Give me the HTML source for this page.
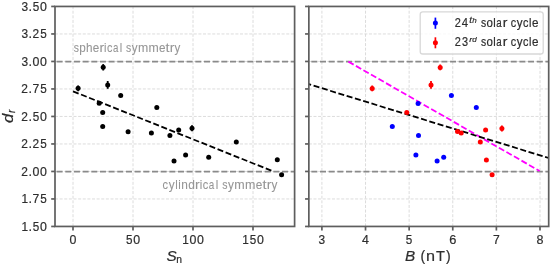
<!DOCTYPE html>
<html><head><meta charset="utf-8"><style>
html,body{margin:0;padding:0;background:#fff;}
body{width:550px;height:265px;overflow:hidden;}
svg{display:block;font-family:"Liberation Sans", sans-serif;will-change:transform;}
.t{stroke:#2e2e2e;stroke-width:0.2px;}
.g{stroke:#969696;stroke-width:0.08px;}
</style></head><body>
<svg width="550" height="265" viewBox="0 0 550 265">
<rect width="550" height="265" fill="#fff"/>
<line x1="55.0" y1="33.95" x2="294.6" y2="33.95" stroke="#d8d8d8" stroke-width="0.9" stroke-dasharray="3.0,1.625"/>
<line x1="55.0" y1="61.45" x2="294.6" y2="61.45" stroke="#d8d8d8" stroke-width="0.9" stroke-dasharray="3.0,1.625"/>
<line x1="55.0" y1="88.95" x2="294.6" y2="88.95" stroke="#d8d8d8" stroke-width="0.9" stroke-dasharray="3.0,1.625"/>
<line x1="55.0" y1="116.45" x2="294.6" y2="116.45" stroke="#d8d8d8" stroke-width="0.9" stroke-dasharray="3.0,1.625"/>
<line x1="55.0" y1="143.95" x2="294.6" y2="143.95" stroke="#d8d8d8" stroke-width="0.9" stroke-dasharray="3.0,1.625"/>
<line x1="55.0" y1="171.45" x2="294.6" y2="171.45" stroke="#d8d8d8" stroke-width="0.9" stroke-dasharray="3.0,1.625"/>
<line x1="55.0" y1="198.95" x2="294.6" y2="198.95" stroke="#d8d8d8" stroke-width="0.9" stroke-dasharray="3.0,1.625"/>
<line x1="73.00" y1="226.45" x2="73.00" y2="6.45" stroke="#d8d8d8" stroke-width="0.9" stroke-dasharray="3.0,1.625"/>
<line x1="133.00" y1="226.45" x2="133.00" y2="6.45" stroke="#d8d8d8" stroke-width="0.9" stroke-dasharray="3.0,1.625"/>
<line x1="193.00" y1="226.45" x2="193.00" y2="6.45" stroke="#d8d8d8" stroke-width="0.9" stroke-dasharray="3.0,1.625"/>
<line x1="253.00" y1="226.45" x2="253.00" y2="6.45" stroke="#d8d8d8" stroke-width="0.9" stroke-dasharray="3.0,1.625"/>
<line x1="308.85" y1="33.95" x2="548.7" y2="33.95" stroke="#d8d8d8" stroke-width="0.9" stroke-dasharray="3.0,1.625"/>
<line x1="308.85" y1="61.45" x2="548.7" y2="61.45" stroke="#d8d8d8" stroke-width="0.9" stroke-dasharray="3.0,1.625"/>
<line x1="308.85" y1="88.95" x2="548.7" y2="88.95" stroke="#d8d8d8" stroke-width="0.9" stroke-dasharray="3.0,1.625"/>
<line x1="308.85" y1="116.45" x2="548.7" y2="116.45" stroke="#d8d8d8" stroke-width="0.9" stroke-dasharray="3.0,1.625"/>
<line x1="308.85" y1="143.95" x2="548.7" y2="143.95" stroke="#d8d8d8" stroke-width="0.9" stroke-dasharray="3.0,1.625"/>
<line x1="308.85" y1="171.45" x2="548.7" y2="171.45" stroke="#d8d8d8" stroke-width="0.9" stroke-dasharray="3.0,1.625"/>
<line x1="308.85" y1="198.95" x2="548.7" y2="198.95" stroke="#d8d8d8" stroke-width="0.9" stroke-dasharray="3.0,1.625"/>
<line x1="321.90" y1="226.45" x2="321.90" y2="6.45" stroke="#d8d8d8" stroke-width="0.9" stroke-dasharray="3.0,1.625"/>
<line x1="365.52" y1="226.45" x2="365.52" y2="6.45" stroke="#d8d8d8" stroke-width="0.9" stroke-dasharray="3.0,1.625"/>
<line x1="409.14" y1="226.45" x2="409.14" y2="6.45" stroke="#d8d8d8" stroke-width="0.9" stroke-dasharray="3.0,1.625"/>
<line x1="452.76" y1="226.45" x2="452.76" y2="6.45" stroke="#d8d8d8" stroke-width="0.9" stroke-dasharray="3.0,1.625"/>
<line x1="496.38" y1="226.45" x2="496.38" y2="6.45" stroke="#d8d8d8" stroke-width="0.9" stroke-dasharray="3.0,1.625"/>
<line x1="540.00" y1="226.45" x2="540.00" y2="6.45" stroke="#d8d8d8" stroke-width="0.9" stroke-dasharray="3.0,1.625"/>
<line x1="56.6" y1="61.63" x2="294.6" y2="61.63" stroke="#8a8a8a" stroke-width="1.9" stroke-dasharray="6,2.67"/>
<line x1="56.6" y1="171.63" x2="294.6" y2="171.63" stroke="#8a8a8a" stroke-width="1.9" stroke-dasharray="6,2.67"/>
<line x1="311.35" y1="61.63" x2="548.7" y2="61.63" stroke="#8a8a8a" stroke-width="1.9" stroke-dasharray="6,2.67"/>
<line x1="311.35" y1="171.63" x2="548.7" y2="171.63" stroke="#8a8a8a" stroke-width="1.9" stroke-dasharray="6,2.67"/>
<text x="73.71" y="51.60" font-size="12.17" fill="#969696" class="g" textLength="5.18" lengthAdjust="spacingAndGlyphs">s</text>
<text x="79.27" y="51.60" font-size="12.15" fill="#969696" class="g" textLength="6.53" lengthAdjust="spacingAndGlyphs">p</text>
<text x="86.07" y="51.60" font-size="12.23" fill="#969696" class="g" textLength="6.52" lengthAdjust="spacingAndGlyphs">h</text>
<text x="92.84" y="51.60" font-size="12.14" fill="#969696" class="g" textLength="6.49" lengthAdjust="spacingAndGlyphs">e</text>
<text x="99.45" y="51.60" font-size="12.14" fill="#969696" class="g" textLength="4.61" lengthAdjust="spacingAndGlyphs">r</text>
<text x="104.11" y="51.60" font-size="12.23" fill="#969696" class="g" textLength="2.45" lengthAdjust="spacingAndGlyphs">i</text>
<text x="106.96" y="51.60" font-size="12.14" fill="#969696" class="g" textLength="5.42" lengthAdjust="spacingAndGlyphs">c</text>
<text x="113.00" y="51.60" font-size="12.14" fill="#969696" class="g" textLength="5.40" lengthAdjust="spacingAndGlyphs">a</text>
<text x="119.66" y="51.60" font-size="12.23" fill="#969696" class="g" textLength="2.45" lengthAdjust="spacingAndGlyphs">l</text>
<text x="126.12" y="51.60" font-size="12.17" fill="#969696" class="g" textLength="5.18" lengthAdjust="spacingAndGlyphs">s</text>
<text x="131.74" y="51.60" font-size="12.07" fill="#969696" class="g" textLength="5.80" lengthAdjust="spacingAndGlyphs">y</text>
<text x="138.00" y="51.60" font-size="12.14" fill="#969696" class="g" textLength="10.25" lengthAdjust="spacingAndGlyphs">m</text>
<text x="148.52" y="51.60" font-size="12.14" fill="#969696" class="g" textLength="10.25" lengthAdjust="spacingAndGlyphs">m</text>
<text x="158.98" y="51.60" font-size="12.14" fill="#969696" class="g" textLength="6.49" lengthAdjust="spacingAndGlyphs">e</text>
<text x="165.59" y="51.60" font-size="12.67" fill="#969696" class="g" textLength="4.01" lengthAdjust="spacingAndGlyphs">t</text>
<text x="169.82" y="51.60" font-size="12.14" fill="#969696" class="g" textLength="4.61" lengthAdjust="spacingAndGlyphs">r</text>
<text x="174.49" y="51.60" font-size="12.07" fill="#969696" class="g" textLength="5.80" lengthAdjust="spacingAndGlyphs">y</text>
<text x="162.54" y="189.00" font-size="12.14" fill="#969696" class="g" textLength="5.52" lengthAdjust="spacingAndGlyphs">c</text>
<text x="168.75" y="189.00" font-size="12.07" fill="#969696" class="g" textLength="5.90" lengthAdjust="spacingAndGlyphs">y</text>
<text x="175.24" y="189.00" font-size="12.23" fill="#969696" class="g" textLength="2.50" lengthAdjust="spacingAndGlyphs">l</text>
<text x="178.30" y="189.00" font-size="12.23" fill="#969696" class="g" textLength="2.50" lengthAdjust="spacingAndGlyphs">i</text>
<text x="181.28" y="189.00" font-size="12.14" fill="#969696" class="g" textLength="6.59" lengthAdjust="spacingAndGlyphs">n</text>
<text x="188.14" y="189.00" font-size="12.23" fill="#969696" class="g" textLength="6.65" lengthAdjust="spacingAndGlyphs">d</text>
<text x="195.08" y="189.00" font-size="12.14" fill="#969696" class="g" textLength="4.69" lengthAdjust="spacingAndGlyphs">r</text>
<text x="199.82" y="189.00" font-size="12.23" fill="#969696" class="g" textLength="2.50" lengthAdjust="spacingAndGlyphs">i</text>
<text x="202.73" y="189.00" font-size="12.14" fill="#969696" class="g" textLength="5.52" lengthAdjust="spacingAndGlyphs">c</text>
<text x="208.87" y="189.00" font-size="12.14" fill="#969696" class="g" textLength="5.50" lengthAdjust="spacingAndGlyphs">a</text>
<text x="215.65" y="189.00" font-size="12.23" fill="#969696" class="g" textLength="2.50" lengthAdjust="spacingAndGlyphs">l</text>
<text x="222.22" y="189.00" font-size="12.17" fill="#969696" class="g" textLength="5.27" lengthAdjust="spacingAndGlyphs">s</text>
<text x="227.95" y="189.00" font-size="12.07" fill="#969696" class="g" textLength="5.90" lengthAdjust="spacingAndGlyphs">y</text>
<text x="234.32" y="189.00" font-size="12.14" fill="#969696" class="g" textLength="10.43" lengthAdjust="spacingAndGlyphs">m</text>
<text x="245.03" y="189.00" font-size="12.14" fill="#969696" class="g" textLength="10.43" lengthAdjust="spacingAndGlyphs">m</text>
<text x="255.68" y="189.00" font-size="12.14" fill="#969696" class="g" textLength="6.60" lengthAdjust="spacingAndGlyphs">e</text>
<text x="262.41" y="189.00" font-size="12.67" fill="#969696" class="g" textLength="4.08" lengthAdjust="spacingAndGlyphs">t</text>
<text x="266.71" y="189.00" font-size="12.14" fill="#969696" class="g" textLength="4.69" lengthAdjust="spacingAndGlyphs">r</text>
<text x="271.47" y="189.00" font-size="12.07" fill="#969696" class="g" textLength="5.90" lengthAdjust="spacingAndGlyphs">y</text>
<line x1="73.0" y1="91.3" x2="273.0" y2="171.3" stroke="#000" stroke-width="1.8" stroke-dasharray="6.05,2.6"/>
<line x1="348.4" y1="61.6" x2="539.6" y2="171.0" stroke="#ff00ff" stroke-width="1.8" stroke-dasharray="6.07,2.6"/>
<line x1="308.85" y1="84.2" x2="548.7" y2="158.0" stroke="#000" stroke-width="1.8" stroke-dasharray="6.05,2.6" stroke-dashoffset="3.7"/>
<line x1="78.1" y1="85.40" x2="78.1" y2="91.20" stroke="#000" stroke-width="1.8"/>
<circle cx="78.1" cy="88.3" r="2.5" fill="#000"/>
<line x1="103.2" y1="64.10" x2="103.2" y2="70.50" stroke="#000" stroke-width="1.8"/>
<circle cx="103.2" cy="67.3" r="2.5" fill="#000"/>
<line x1="107.7" y1="81.00" x2="107.7" y2="88.80" stroke="#000" stroke-width="1.8"/>
<circle cx="107.7" cy="84.9" r="2.5" fill="#000"/>
<circle cx="120.7" cy="95.4" r="2.5" fill="#000"/>
<circle cx="99.2" cy="103.2" r="2.5" fill="#000"/>
<circle cx="102.7" cy="112.6" r="2.5" fill="#000"/>
<circle cx="102.7" cy="126.5" r="2.5" fill="#000"/>
<circle cx="128.1" cy="131.7" r="2.5" fill="#000"/>
<circle cx="151.4" cy="133.0" r="2.5" fill="#000"/>
<circle cx="156.8" cy="107.5" r="2.5" fill="#000"/>
<circle cx="169.9" cy="135.6" r="2.5" fill="#000"/>
<circle cx="178.7" cy="129.9" r="2.5" fill="#000"/>
<line x1="192.0" y1="125.30" x2="192.0" y2="131.30" stroke="#000" stroke-width="1.8"/>
<circle cx="192.0" cy="128.3" r="2.5" fill="#000"/>
<circle cx="174.0" cy="161.0" r="2.5" fill="#000"/>
<circle cx="185.6" cy="154.9" r="2.5" fill="#000"/>
<circle cx="208.7" cy="157.3" r="2.5" fill="#000"/>
<circle cx="236.3" cy="142.1" r="2.5" fill="#000"/>
<circle cx="277.3" cy="159.8" r="2.5" fill="#000"/>
<circle cx="281.6" cy="174.7" r="2.5" fill="#000"/>
<line x1="372.2" y1="85.50" x2="372.2" y2="91.30" stroke="#ff0000" stroke-width="1.8"/>
<circle cx="372.2" cy="88.4" r="2.5" fill="#ff0000"/>
<line x1="440.2" y1="64.50" x2="440.2" y2="70.30" stroke="#ff0000" stroke-width="1.8"/>
<circle cx="440.2" cy="67.4" r="2.5" fill="#ff0000"/>
<line x1="431.0" y1="81.00" x2="431.0" y2="88.80" stroke="#ff0000" stroke-width="1.8"/>
<circle cx="431.0" cy="84.9" r="2.5" fill="#ff0000"/>
<circle cx="406.8" cy="112.6" r="2.5" fill="#ff0000"/>
<circle cx="457.5" cy="131.5" r="2.5" fill="#ff0000"/>
<circle cx="461.2" cy="132.9" r="2.5" fill="#ff0000"/>
<circle cx="485.6" cy="130.1" r="2.5" fill="#ff0000"/>
<line x1="501.9" y1="125.50" x2="501.9" y2="131.50" stroke="#ff0000" stroke-width="1.8"/>
<circle cx="501.9" cy="128.5" r="2.5" fill="#ff0000"/>
<circle cx="480.3" cy="142.0" r="2.5" fill="#ff0000"/>
<circle cx="486.4" cy="160.0" r="2.5" fill="#ff0000"/>
<circle cx="492.1" cy="174.8" r="2.5" fill="#ff0000"/>
<circle cx="451.4" cy="95.6" r="2.5" fill="#0000ff"/>
<circle cx="418.1" cy="103.4" r="2.5" fill="#0000ff"/>
<circle cx="392.3" cy="126.4" r="2.5" fill="#0000ff"/>
<circle cx="418.5" cy="135.6" r="2.5" fill="#0000ff"/>
<circle cx="415.9" cy="154.9" r="2.5" fill="#0000ff"/>
<circle cx="443.7" cy="157.2" r="2.5" fill="#0000ff"/>
<circle cx="437.1" cy="161.0" r="2.5" fill="#0000ff"/>
<circle cx="476.3" cy="107.5" r="2.5" fill="#0000ff"/>
<rect x="420.2" y="11.9" width="123.0" height="42.1" rx="2.6" fill="#fff" fill-opacity="0.8" stroke="#d8d8d8" stroke-width="1.3"/>
<line x1="435.4" y1="17.6" x2="435.4" y2="28.8" stroke="#0000ff" stroke-width="1.7"/>
<circle cx="435.4" cy="23.1" r="2.5" fill="#0000ff"/>
<line x1="435.4" y1="37.3" x2="435.4" y2="48.3" stroke="#ff0000" stroke-width="1.7"/>
<circle cx="435.4" cy="42.8" r="2.5" fill="#ff0000"/>
<text x="454.85" y="26.70" font-size="12.28" fill="#2e2e2e" class="t" textLength="6.10" lengthAdjust="spacingAndGlyphs">2</text>
<text x="461.75" y="26.70" font-size="12.24" fill="#2e2e2e" class="t" textLength="6.33" lengthAdjust="spacingAndGlyphs">4</text>
<text x="469.27" y="23.00" font-size="8.21" font-style="italic" fill="#2e2e2e" class="t" textLength="2.77" lengthAdjust="spacingAndGlyphs">t</text>
<text x="472.28" y="23.00" font-size="7.93" font-style="italic" fill="#2e2e2e" class="t" textLength="4.43" lengthAdjust="spacingAndGlyphs">h</text>
<text x="481.11" y="26.70" font-size="12.06" fill="#2e2e2e" class="t" textLength="5.18" lengthAdjust="spacingAndGlyphs">s</text>
<text x="486.56" y="26.70" font-size="12.03" fill="#2e2e2e" class="t" textLength="6.39" lengthAdjust="spacingAndGlyphs">o</text>
<text x="493.33" y="26.70" font-size="12.12" fill="#2e2e2e" class="t" textLength="2.45" lengthAdjust="spacingAndGlyphs">l</text>
<text x="496.29" y="26.70" font-size="12.03" fill="#2e2e2e" class="t" textLength="5.40" lengthAdjust="spacingAndGlyphs">a</text>
<text x="502.73" y="26.70" font-size="12.03" fill="#2e2e2e" class="t" textLength="4.61" lengthAdjust="spacingAndGlyphs">r</text>
<text x="510.68" y="26.70" font-size="12.03" fill="#2e2e2e" class="t" textLength="5.42" lengthAdjust="spacingAndGlyphs">c</text>
<text x="516.77" y="26.70" font-size="11.96" fill="#2e2e2e" class="t" textLength="5.80" lengthAdjust="spacingAndGlyphs">y</text>
<text x="523.01" y="26.70" font-size="12.03" fill="#2e2e2e" class="t" textLength="5.42" lengthAdjust="spacingAndGlyphs">c</text>
<text x="529.08" y="26.70" font-size="12.12" fill="#2e2e2e" class="t" textLength="2.45" lengthAdjust="spacingAndGlyphs">l</text>
<text x="531.91" y="26.70" font-size="12.03" fill="#2e2e2e" class="t" textLength="6.49" lengthAdjust="spacingAndGlyphs">e</text>
<text x="454.85" y="45.70" font-size="12.28" fill="#2e2e2e" class="t" textLength="6.10" lengthAdjust="spacingAndGlyphs">2</text>
<text x="461.89" y="45.70" font-size="12.28" fill="#2e2e2e" class="t" textLength="6.08" lengthAdjust="spacingAndGlyphs">3</text>
<text x="469.36" y="42.00" font-size="7.87" font-style="italic" fill="#2e2e2e" class="t" textLength="3.01" lengthAdjust="spacingAndGlyphs">r</text>
<text x="472.37" y="42.00" font-size="7.93" font-style="italic" fill="#2e2e2e" class="t" textLength="4.45" lengthAdjust="spacingAndGlyphs">d</text>
<text x="481.11" y="45.70" font-size="12.06" fill="#2e2e2e" class="t" textLength="5.18" lengthAdjust="spacingAndGlyphs">s</text>
<text x="486.56" y="45.70" font-size="12.03" fill="#2e2e2e" class="t" textLength="6.39" lengthAdjust="spacingAndGlyphs">o</text>
<text x="493.33" y="45.70" font-size="12.12" fill="#2e2e2e" class="t" textLength="2.45" lengthAdjust="spacingAndGlyphs">l</text>
<text x="496.29" y="45.70" font-size="12.03" fill="#2e2e2e" class="t" textLength="5.40" lengthAdjust="spacingAndGlyphs">a</text>
<text x="502.73" y="45.70" font-size="12.03" fill="#2e2e2e" class="t" textLength="4.61" lengthAdjust="spacingAndGlyphs">r</text>
<text x="510.68" y="45.70" font-size="12.03" fill="#2e2e2e" class="t" textLength="5.42" lengthAdjust="spacingAndGlyphs">c</text>
<text x="516.77" y="45.70" font-size="11.96" fill="#2e2e2e" class="t" textLength="5.80" lengthAdjust="spacingAndGlyphs">y</text>
<text x="523.01" y="45.70" font-size="12.03" fill="#2e2e2e" class="t" textLength="5.42" lengthAdjust="spacingAndGlyphs">c</text>
<text x="529.08" y="45.70" font-size="12.12" fill="#2e2e2e" class="t" textLength="2.45" lengthAdjust="spacingAndGlyphs">l</text>
<text x="531.91" y="45.70" font-size="12.03" fill="#2e2e2e" class="t" textLength="6.49" lengthAdjust="spacingAndGlyphs">e</text>
<rect x="55.0" y="6.45" width="239.60" height="220.00" fill="none" stroke="#5e5e5e" stroke-width="1.7"/>
<line x1="51.2" y1="6.45" x2="55.0" y2="6.45" stroke="#5e5e5e" stroke-width="1.7"/>
<line x1="51.2" y1="33.95" x2="55.0" y2="33.95" stroke="#5e5e5e" stroke-width="1.7"/>
<line x1="51.2" y1="61.45" x2="55.0" y2="61.45" stroke="#5e5e5e" stroke-width="1.7"/>
<line x1="51.2" y1="88.95" x2="55.0" y2="88.95" stroke="#5e5e5e" stroke-width="1.7"/>
<line x1="51.2" y1="116.45" x2="55.0" y2="116.45" stroke="#5e5e5e" stroke-width="1.7"/>
<line x1="51.2" y1="143.95" x2="55.0" y2="143.95" stroke="#5e5e5e" stroke-width="1.7"/>
<line x1="51.2" y1="171.45" x2="55.0" y2="171.45" stroke="#5e5e5e" stroke-width="1.7"/>
<line x1="51.2" y1="198.95" x2="55.0" y2="198.95" stroke="#5e5e5e" stroke-width="1.7"/>
<line x1="51.2" y1="226.45" x2="55.0" y2="226.45" stroke="#5e5e5e" stroke-width="1.7"/>
<rect x="308.85" y="6.45" width="239.85" height="220.00" fill="none" stroke="#5e5e5e" stroke-width="1.7"/>
<line x1="305.05" y1="6.45" x2="308.85" y2="6.45" stroke="#5e5e5e" stroke-width="1.7"/>
<line x1="305.05" y1="33.95" x2="308.85" y2="33.95" stroke="#5e5e5e" stroke-width="1.7"/>
<line x1="305.05" y1="61.45" x2="308.85" y2="61.45" stroke="#5e5e5e" stroke-width="1.7"/>
<line x1="305.05" y1="88.95" x2="308.85" y2="88.95" stroke="#5e5e5e" stroke-width="1.7"/>
<line x1="305.05" y1="116.45" x2="308.85" y2="116.45" stroke="#5e5e5e" stroke-width="1.7"/>
<line x1="305.05" y1="143.95" x2="308.85" y2="143.95" stroke="#5e5e5e" stroke-width="1.7"/>
<line x1="305.05" y1="171.45" x2="308.85" y2="171.45" stroke="#5e5e5e" stroke-width="1.7"/>
<line x1="305.05" y1="198.95" x2="308.85" y2="198.95" stroke="#5e5e5e" stroke-width="1.7"/>
<line x1="305.05" y1="226.45" x2="308.85" y2="226.45" stroke="#5e5e5e" stroke-width="1.7"/>
<line x1="73.00" y1="226.45" x2="73.00" y2="230.54999999999998" stroke="#5e5e5e" stroke-width="1.7"/>
<line x1="133.00" y1="226.45" x2="133.00" y2="230.54999999999998" stroke="#5e5e5e" stroke-width="1.7"/>
<line x1="193.00" y1="226.45" x2="193.00" y2="230.54999999999998" stroke="#5e5e5e" stroke-width="1.7"/>
<line x1="253.00" y1="226.45" x2="253.00" y2="230.54999999999998" stroke="#5e5e5e" stroke-width="1.7"/>
<line x1="321.90" y1="226.45" x2="321.90" y2="230.54999999999998" stroke="#5e5e5e" stroke-width="1.7"/>
<line x1="365.52" y1="226.45" x2="365.52" y2="230.54999999999998" stroke="#5e5e5e" stroke-width="1.7"/>
<line x1="409.14" y1="226.45" x2="409.14" y2="230.54999999999998" stroke="#5e5e5e" stroke-width="1.7"/>
<line x1="452.76" y1="226.45" x2="452.76" y2="230.54999999999998" stroke="#5e5e5e" stroke-width="1.7"/>
<line x1="496.38" y1="226.45" x2="496.38" y2="230.54999999999998" stroke="#5e5e5e" stroke-width="1.7"/>
<line x1="540.00" y1="226.45" x2="540.00" y2="230.54999999999998" stroke="#5e5e5e" stroke-width="1.7"/>
<text x="21.48" y="10.95" font-size="12.49" fill="#2e2e2e" class="t" textLength="6.62" lengthAdjust="spacingAndGlyphs">3</text>
<text x="28.61" y="10.95" font-size="12.49" fill="#2e2e2e" class="t" textLength="3.53" lengthAdjust="spacingAndGlyphs">.</text>
<text x="32.69" y="10.95" font-size="12.45" fill="#2e2e2e" class="t" textLength="6.50" lengthAdjust="spacingAndGlyphs">5</text>
<text x="40.01" y="10.95" font-size="12.49" fill="#2e2e2e" class="t" textLength="6.89" lengthAdjust="spacingAndGlyphs">0</text>
<text x="21.48" y="38.45" font-size="12.49" fill="#2e2e2e" class="t" textLength="6.62" lengthAdjust="spacingAndGlyphs">3</text>
<text x="28.61" y="38.45" font-size="12.49" fill="#2e2e2e" class="t" textLength="3.53" lengthAdjust="spacingAndGlyphs">.</text>
<text x="32.51" y="38.45" font-size="12.49" fill="#2e2e2e" class="t" textLength="6.64" lengthAdjust="spacingAndGlyphs">2</text>
<text x="40.16" y="38.45" font-size="12.45" fill="#2e2e2e" class="t" textLength="6.50" lengthAdjust="spacingAndGlyphs">5</text>
<text x="21.48" y="65.95" font-size="12.49" fill="#2e2e2e" class="t" textLength="6.62" lengthAdjust="spacingAndGlyphs">3</text>
<text x="28.61" y="65.95" font-size="12.49" fill="#2e2e2e" class="t" textLength="3.53" lengthAdjust="spacingAndGlyphs">.</text>
<text x="32.54" y="65.95" font-size="12.49" fill="#2e2e2e" class="t" textLength="6.89" lengthAdjust="spacingAndGlyphs">0</text>
<text x="40.01" y="65.95" font-size="12.49" fill="#2e2e2e" class="t" textLength="6.89" lengthAdjust="spacingAndGlyphs">0</text>
<text x="21.30" y="93.45" font-size="12.49" fill="#2e2e2e" class="t" textLength="6.64" lengthAdjust="spacingAndGlyphs">2</text>
<text x="28.61" y="93.45" font-size="12.49" fill="#2e2e2e" class="t" textLength="3.53" lengthAdjust="spacingAndGlyphs">.</text>
<text x="32.59" y="93.45" font-size="12.45" fill="#2e2e2e" class="t" textLength="6.74" lengthAdjust="spacingAndGlyphs">7</text>
<text x="40.16" y="93.45" font-size="12.45" fill="#2e2e2e" class="t" textLength="6.50" lengthAdjust="spacingAndGlyphs">5</text>
<text x="21.30" y="120.95" font-size="12.49" fill="#2e2e2e" class="t" textLength="6.64" lengthAdjust="spacingAndGlyphs">2</text>
<text x="28.61" y="120.95" font-size="12.49" fill="#2e2e2e" class="t" textLength="3.53" lengthAdjust="spacingAndGlyphs">.</text>
<text x="32.69" y="120.95" font-size="12.45" fill="#2e2e2e" class="t" textLength="6.50" lengthAdjust="spacingAndGlyphs">5</text>
<text x="40.01" y="120.95" font-size="12.49" fill="#2e2e2e" class="t" textLength="6.89" lengthAdjust="spacingAndGlyphs">0</text>
<text x="21.30" y="148.45" font-size="12.49" fill="#2e2e2e" class="t" textLength="6.64" lengthAdjust="spacingAndGlyphs">2</text>
<text x="28.61" y="148.45" font-size="12.49" fill="#2e2e2e" class="t" textLength="3.53" lengthAdjust="spacingAndGlyphs">.</text>
<text x="32.51" y="148.45" font-size="12.49" fill="#2e2e2e" class="t" textLength="6.64" lengthAdjust="spacingAndGlyphs">2</text>
<text x="40.16" y="148.45" font-size="12.45" fill="#2e2e2e" class="t" textLength="6.50" lengthAdjust="spacingAndGlyphs">5</text>
<text x="21.30" y="175.95" font-size="12.49" fill="#2e2e2e" class="t" textLength="6.64" lengthAdjust="spacingAndGlyphs">2</text>
<text x="28.61" y="175.95" font-size="12.49" fill="#2e2e2e" class="t" textLength="3.53" lengthAdjust="spacingAndGlyphs">.</text>
<text x="32.54" y="175.95" font-size="12.49" fill="#2e2e2e" class="t" textLength="6.89" lengthAdjust="spacingAndGlyphs">0</text>
<text x="40.01" y="175.95" font-size="12.49" fill="#2e2e2e" class="t" textLength="6.89" lengthAdjust="spacingAndGlyphs">0</text>
<text x="21.43" y="203.45" font-size="12.45" fill="#2e2e2e" class="t" textLength="6.58" lengthAdjust="spacingAndGlyphs">1</text>
<text x="28.61" y="203.45" font-size="12.49" fill="#2e2e2e" class="t" textLength="3.53" lengthAdjust="spacingAndGlyphs">.</text>
<text x="32.59" y="203.45" font-size="12.45" fill="#2e2e2e" class="t" textLength="6.74" lengthAdjust="spacingAndGlyphs">7</text>
<text x="40.16" y="203.45" font-size="12.45" fill="#2e2e2e" class="t" textLength="6.50" lengthAdjust="spacingAndGlyphs">5</text>
<text x="21.43" y="230.95" font-size="12.45" fill="#2e2e2e" class="t" textLength="6.58" lengthAdjust="spacingAndGlyphs">1</text>
<text x="28.61" y="230.95" font-size="12.49" fill="#2e2e2e" class="t" textLength="3.53" lengthAdjust="spacingAndGlyphs">.</text>
<text x="32.69" y="230.95" font-size="12.45" fill="#2e2e2e" class="t" textLength="6.50" lengthAdjust="spacingAndGlyphs">5</text>
<text x="40.01" y="230.95" font-size="12.49" fill="#2e2e2e" class="t" textLength="6.89" lengthAdjust="spacingAndGlyphs">0</text>
<text x="69.55" y="243.60" font-size="12.49" fill="#2e2e2e" class="t" textLength="6.89" lengthAdjust="spacingAndGlyphs">0</text>
<text x="125.96" y="243.60" font-size="12.45" fill="#2e2e2e" class="t" textLength="6.50" lengthAdjust="spacingAndGlyphs">5</text>
<text x="133.29" y="243.60" font-size="12.49" fill="#2e2e2e" class="t" textLength="6.89" lengthAdjust="spacingAndGlyphs">0</text>
<text x="182.18" y="243.60" font-size="12.45" fill="#2e2e2e" class="t" textLength="6.58" lengthAdjust="spacingAndGlyphs">1</text>
<text x="189.55" y="243.60" font-size="12.49" fill="#2e2e2e" class="t" textLength="6.89" lengthAdjust="spacingAndGlyphs">0</text>
<text x="197.03" y="243.60" font-size="12.49" fill="#2e2e2e" class="t" textLength="6.89" lengthAdjust="spacingAndGlyphs">0</text>
<text x="242.18" y="243.60" font-size="12.45" fill="#2e2e2e" class="t" textLength="6.58" lengthAdjust="spacingAndGlyphs">1</text>
<text x="249.70" y="243.60" font-size="12.45" fill="#2e2e2e" class="t" textLength="6.50" lengthAdjust="spacingAndGlyphs">5</text>
<text x="257.03" y="243.60" font-size="12.49" fill="#2e2e2e" class="t" textLength="6.89" lengthAdjust="spacingAndGlyphs">0</text>
<text x="318.60" y="243.60" font-size="12.49" fill="#2e2e2e" class="t" textLength="6.62" lengthAdjust="spacingAndGlyphs">3</text>
<text x="362.07" y="243.60" font-size="12.45" fill="#2e2e2e" class="t" textLength="6.89" lengthAdjust="spacingAndGlyphs">4</text>
<text x="405.84" y="243.60" font-size="12.45" fill="#2e2e2e" class="t" textLength="6.50" lengthAdjust="spacingAndGlyphs">5</text>
<text x="449.19" y="243.60" font-size="12.49" fill="#2e2e2e" class="t" textLength="7.13" lengthAdjust="spacingAndGlyphs">6</text>
<text x="492.98" y="243.60" font-size="12.45" fill="#2e2e2e" class="t" textLength="6.74" lengthAdjust="spacingAndGlyphs">7</text>
<text x="536.52" y="243.60" font-size="12.49" fill="#2e2e2e" class="t" textLength="6.96" lengthAdjust="spacingAndGlyphs">8</text>
<text x="166.4" y="260.9" font-size="14.6" font-style="italic" fill="#2e2e2e" class="t" textLength="10.2" lengthAdjust="spacingAndGlyphs">S</text>
<text x="176.3" y="263.0" font-size="10.3" fill="#2e2e2e" class="t">n</text>
<text x="405.0" y="260.6" font-size="15" font-style="italic" fill="#2e2e2e" class="t" textLength="10.2" lengthAdjust="spacingAndGlyphs">B</text>
<text x="420.5" y="261.0" font-size="14" fill="#2e2e2e" class="t">(</text>
<text x="426.0" y="260.6" font-size="15" fill="#2e2e2e" class="t" textLength="9.0" lengthAdjust="spacingAndGlyphs">n</text>
<text x="435.9" y="260.6" font-size="14.6" fill="#2e2e2e" class="t">T</text>
<text x="445.9" y="261.0" font-size="14" fill="#2e2e2e" class="t">)</text>
<text transform="translate(13.3,123.1) rotate(-90)" font-size="15" font-style="italic" fill="#2e2e2e" class="t" textLength="9.3" lengthAdjust="spacingAndGlyphs">d</text>
<text transform="translate(15.2,113.0) rotate(-90)" font-size="10" font-style="italic" fill="#2e2e2e" class="t">r</text>
</svg>
</body></html>
